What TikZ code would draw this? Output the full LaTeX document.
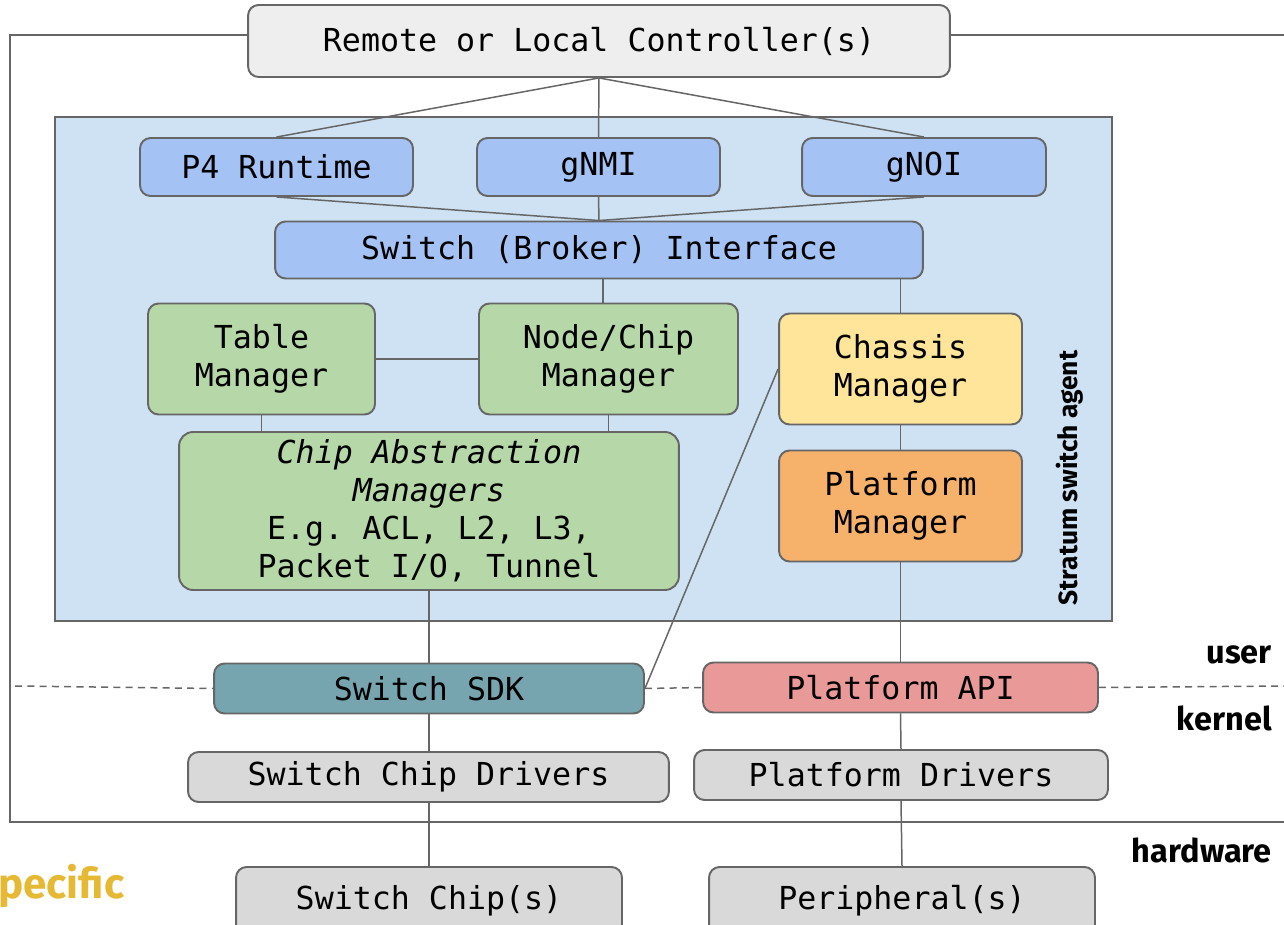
\documentclass[tikz,border=0pt]{standalone}
\usepackage{fontspec}
\setmainfont{Fira Sans}
\setmonofont{DejaVu Sans Mono}
\usetikzlibrary{positioning}

\definecolor{edgegray}{HTML}{666666}
\definecolor{ctrlgray}{HTML}{EEEEEE}
\definecolor{agentblue}{HTML}{CFE2F3}
\definecolor{ifblue}{HTML}{A4C2F4}
\definecolor{mgrgreen}{HTML}{B6D7A8}
\definecolor{chassisyellow}{HTML}{FFE599}
\definecolor{platorange}{HTML}{F6B26B}
\definecolor{sdkteal}{HTML}{76A5AF}
\definecolor{apired}{HTML}{EA9999}
\definecolor{drvgray}{HTML}{D9D9D9}
\definecolor{specgold}{HTML}{E6B935}

\begin{document}
\begin{tikzpicture}[x=0.02cm, y=-0.02cm,
    box/.style={draw=edgegray, line width=1.1pt, rounded corners=6pt, align=center,
        inner sep=0pt, font=\ttfamily\fontsize{18}{21.6}\selectfont},
    link/.style={draw=edgegray, line width=0.85pt},
    layer/.style={anchor=base east, font=\bfseries\fontsize{18.5}{22}\selectfont}]
    \useasboundingbox (0,0) rectangle (1284,925);

    % switch agent area
    \node[draw=edgegray, line width=1.1pt, fill=agentblue, minimum width=21.14cm,
        minimum height=10.08cm] (agent) at (583.5,369) {};
    \node[rotate=90, font=\bfseries\fontsize{15}{17}\selectfont] (agentlabel) at (1070,478) {Stratum switch agent};

    % controller and interfaces
    \node[box, fill=ctrlgray, minimum width=14.04cm, minimum height=1.44cm] (ctrl) at (599,41) {Remote or Local Controller(s)};
    \node[box, fill=ifblue, minimum width=5.46cm, minimum height=1.16cm] (ptruntime) at (276.5,167) {P4 Runtime};
    \node[box, fill=ifblue, minimum width=4.86cm, minimum height=1.16cm] (gnmi) at (598.5,167) {gNMI};
    \node[box, fill=ifblue, minimum width=4.88cm, minimum height=1.16cm] (gnoi) at (924,167) {gNOI};
    \node[box, fill=ifblue, minimum width=12.96cm, minimum height=1.14cm] (broker) at (599,250) {Switch (Broker) Interface};

    % managers
    \node[box, fill=mgrgreen, minimum width=4.54cm, minimum height=2.22cm] (tablemgr) at (261.5,359) {Table\\Manager};
    \node[box, fill=mgrgreen, minimum width=5.18cm, minimum height=2.22cm] (nodemgr) at (608.5,359) {Node/Chip\\Manager};
    \node[box, fill=chassisyellow, minimum width=4.86cm, minimum height=2.22cm] (chassismgr) at (900.5,369) {Chassis\\Manager};
    \node[box, fill=platorange, minimum width=4.86cm, minimum height=2.22cm] (platmgr) at (900.5,506) {Platform\\Manager};
    \node[box, fill=mgrgreen, rounded corners=8pt, minimum width=10cm, minimum height=3.16cm] (chipabs) at (429,511)
        {\textit{Chip Abstraction}\\\textit{Managers}\\E.g. ACL, L2, L3,\\Packet I/O, Tunnel};

    % sdk, drivers, hardware
    \node[box, fill=sdkteal, minimum width=8.6cm, minimum height=1cm] (sdk) at (429,688.5) {Switch SDK};
    \node[box, fill=apired, minimum width=7.9cm, minimum height=1cm] (platapi) at (900.5,687.5) {Platform API};
    \node[box, fill=drvgray, minimum width=9.62cm, minimum height=1cm] (chipdrv) at (428.5,777) {Switch Chip Drivers};
    \node[box, fill=drvgray, minimum width=8.28cm, minimum height=1cm] (platdrv) at (901,775) {Platform Drivers};
    \node[box, fill=drvgray, minimum width=7.72cm, minimum height=1.36cm] (chips) at (429,901) {Switch Chip(s)};
    \node[box, fill=drvgray, minimum width=7.72cm, minimum height=1.36cm] (periph) at (902,901) {Peripheral(s)};

    % connectors
    \draw[link] (ctrl.south) -- (ptruntime.north);
    \draw[link] (ctrl.south) -- (gnmi.north);
    \draw[link] (ctrl.south) -- (gnoi.north);
    \draw[link] (ptruntime.south) -- (broker.north);
    \draw[link] (gnmi.south) -- (broker.north);
    \draw[link] (gnoi.south) -- (broker.north);
    \draw[link] (broker.south -| 603,0) -- (nodemgr.north -| 603,0);
    \draw[link] (broker.south -| chassismgr.north) -- (chassismgr.north);
    \draw[link] (tablemgr.east) -- (nodemgr.west);
    \draw[link] (tablemgr.south) -- (tablemgr.south |- chipabs.north);
    \draw[link] (nodemgr.south) -- (nodemgr.south |- chipabs.north);
    \draw[link] (chassismgr.south) -- (platmgr.north);
    \draw[link] (chipabs.south) -- (sdk.north);
    \draw[link] (chassismgr.west) -- (sdk.east);
    \draw[link] (platmgr.south) -- (platapi.north);
    \draw[link] (sdk.south) -- (chipdrv.north -| sdk.south);
    \draw[link] (chipdrv.south -| sdk.south) -- (chips.north);
    \draw[link] (platapi.south) -- (platdrv.north);
    \draw[link] (platdrv.south) -- (periph.north);

    % switch box outline
    \draw[link, line width=1.1pt] (ctrl.west |- 0,35) -- (10,35) -- (10,822) -- (1284,822);
    \draw[link, line width=1.1pt] (ctrl.east |- 0,35) -- (1284,35);

    % user / kernel boundary
    \draw[link, dash pattern=on 4pt off 3pt] (15,686) -- (sdk.west);
    \draw[link, dash pattern=on 4pt off 3pt] (sdk.east) -- (platapi.west);
    \draw[link, dash pattern=on 4pt off 3pt] (platapi.east) -- (1284,686);

    \node[layer] (userlbl) at (1278,663) {user};
    \node[layer] (kernellbl) at (1278,730) {kernel};
    \node[layer] (hwlbl) at (1278,862) {hardware};
    \node[anchor=base west, text=specgold, font=\bfseries\fontsize{24}{28}\selectfont] (speclbl) at (-8,898) {pecific};
\end{tikzpicture}
\end{document}
